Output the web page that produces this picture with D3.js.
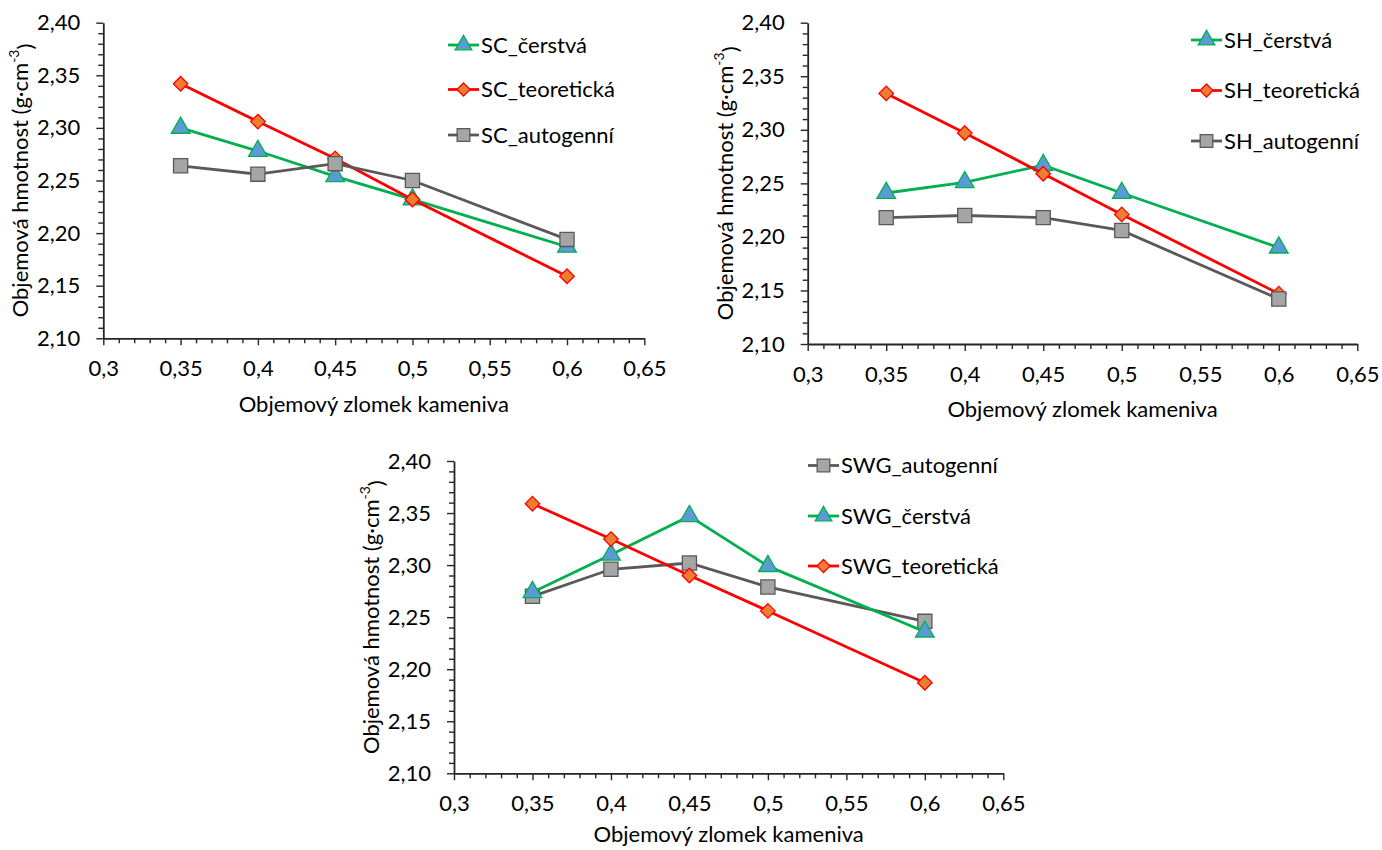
<!DOCTYPE html>
<html>
<head>
<meta charset="utf-8">
<script src="https://cdn.jsdelivr.net/npm/d3@7"></script>
<style>
  html, body { margin: 0; padding: 0; background: #fff; }
  svg { display: block; font-family: Lato, "Open Sans", sans-serif; }
</style>
</head>
<body>
<svg id="chart" width="1382" height="850"></svg>
<script>
// Volume fraction of aggregate (x) and bulk density in g·cm⁻³ (y)
const xValues = [0.35, 0.4, 0.45, 0.5, 0.6];
const xTicks = [0.3, 0.35, 0.4, 0.45, 0.5, 0.55, 0.6, 0.65];
const yTicks = [2.10, 2.15, 2.20, 2.25, 2.30, 2.35, 2.40];

const scCerstva   = [2.300, 2.278, 2.254, 2.232, 2.187];
const scTeoreticka = [2.342, 2.306, 2.271, 2.232, 2.159];
const scAutogenni = [2.264, 2.256, 2.266, 2.250, 2.194];

const shCerstva   = [2.241, 2.251, 2.267, 2.241, 2.190];
const shTeoreticka = [2.334, 2.297, 2.259, 2.221, 2.147];
const shAutogenni = [2.218, 2.220, 2.218, 2.206, 2.142];

const swgAutogenni = [2.270, 2.296, 2.302, 2.279, 2.246];
const swgCerstva   = [2.274, 2.310, 2.347, 2.299, 2.236];
const swgTeoreticka = [2.359, 2.325, 2.290, 2.256, 2.187];

const xTitle = "Objemový zlomek kameniva";
const yTitle = "Objemová hmotnost (g·cm";

const FONT = 22;

// Series styles
const styles = {
  cerstva:    { line: "#00b050", fill: "#5b9bd5", stroke: "#00b050", symbol: d3.symbolTriangle, size: 150 },
  teoreticka: { line: "#ff0000", fill: "#ed7d31", stroke: "#ff0000", symbol: d3.symbolDiamond2, size: 135 },
  autogenni:  { line: "#595959", fill: "#a5a5a5", stroke: "#595959", symbol: d3.symbolSquare, size: 200 }
};

const fmt = v => String(+v.toFixed(2)).replace(".", ",");
const fmtY = v => v.toFixed(2).replace(".", ",");

const svg = d3.select("#chart");

function drawChart(cfg) {
  const g = svg.append("g");
  const x = d3.scaleLinear().domain([0.3, 0.65]).range([cfg.left, cfg.right]);
  const y = d3.scaleLinear().domain([2.10, 2.40]).range([cfg.bottom, cfg.top]);

  // minor ticks every 0.01
  const xMinor = d3.range(31, 65).map(v => v / 100).filter(v => Math.round(v * 100) % 5 !== 0);
  const yMinor = d3.range(211, 240).map(v => v / 100).filter(v => Math.round(v * 100) % 5 !== 0);

  g.append("g").attr("transform", `translate(0,${cfg.bottom})`)
    .call(d3.axisBottom(x).tickValues(xMinor).tickSize(5).tickFormat(""))
    .call(a => a.select(".domain").remove())
    .call(a => a.selectAll("line").attr("stroke", "#262626").attr("stroke-width", 1.4));
  g.append("g").attr("transform", `translate(${cfg.left},0)`)
    .call(d3.axisLeft(y).tickValues(yMinor).tickSize(5).tickFormat(""))
    .call(a => a.select(".domain").remove())
    .call(a => a.selectAll("line").attr("stroke", "#262626").attr("stroke-width", 1.4));

  const xa = g.append("g").attr("transform", `translate(0,${cfg.bottom})`)
    .call(d3.axisBottom(x).tickValues(xTicks).tickSizeInner(7).tickSizeOuter(0).tickPadding(15).tickFormat(fmt));
  xa.select(".domain").attr("stroke", "#262626").attr("stroke-width", 1.8);
  xa.selectAll("line").attr("stroke", "#262626").attr("stroke-width", 1.4);
  xa.selectAll("text").attr("font-size", FONT).attr("fill", "#000").attr("font-family", "Lato");

  const ya = g.append("g").attr("transform", `translate(${cfg.left},0)`)
    .call(d3.axisLeft(y).tickValues(yTicks).tickSizeInner(7).tickSizeOuter(0).tickPadding(16).tickFormat(fmtY));
  ya.select(".domain").attr("stroke", "#262626").attr("stroke-width", 1.8);
  ya.selectAll("line").attr("stroke", "#262626").attr("stroke-width", 1.4);
  ya.selectAll("text").attr("font-size", FONT).attr("fill", "#000").attr("font-family", "Lato");

  // axis titles
  g.append("text")
    .attr("x", (cfg.left + cfg.right) / 2).attr("y", cfg.bottom + cfg.xTitleGap)
    .attr("dy", "0.35em").attr("text-anchor", "middle")
    .attr("font-size", FONT).attr("fill", "#000").text(xTitle);

  const yt = g.append("text")
    .attr("transform", `translate(${cfg.yTitleX},${(cfg.top + cfg.bottom) / 2}) rotate(-90)`)
    .attr("dy", "0.35em").attr("text-anchor", "middle")
    .attr("font-size", FONT).attr("fill", "#000");
  yt.append("tspan").text(yTitle);
  yt.append("tspan").attr("font-size", 14).attr("dy", "-0.6em").text("-3");
  yt.append("tspan").attr("dy", "0.6em").text(")");

  const line = d3.line().x((d, i) => x(xValues[i])).y(d => y(d));

  cfg.series.forEach(s => {
    const st = styles[s.kind];
    const sg = g.append("g");
    sg.append("path").datum(s.values)
      .attr("d", line).attr("fill", "none")
      .attr("stroke", st.line).attr("stroke-width", 2.8);
    sg.selectAll("path.m").data(s.values).join("path").attr("class", "m")
      .attr("transform", (d, i) => `translate(${x(xValues[i])},${y(d)})`)
      .attr("d", d3.symbol(st.symbol, st.size))
      .attr("fill", st.fill).attr("stroke", st.stroke).attr("stroke-width", 1.3);
  });

  // legend
  const lg = g.append("g");
  cfg.series.forEach((s, i) => {
    const st = styles[s.kind];
    const ly = cfg.legend.y[i];
    lg.append("line").attr("x1", cfg.legend.x).attr("x2", cfg.legend.x + 31)
      .attr("y1", ly).attr("y2", ly).attr("stroke", st.line).attr("stroke-width", 2.8);
    lg.append("path").attr("transform", `translate(${cfg.legend.x + 15.5},${ly})`)
      .attr("d", d3.symbol(st.symbol, st.size * 0.8))
      .attr("fill", st.fill).attr("stroke", st.stroke).attr("stroke-width", 1.3);
    lg.append("text").attr("x", cfg.legend.x + 33).attr("y", ly).attr("dy", "0.35em")
      .attr("font-size", FONT).attr("fill", "#000").text(s.name);
  });
}

drawChart({
  left: 103.3, right: 644.3, top: 22.7, bottom: 338.3, yTitleX: 20, xTitleGap: 66,
  legend: { x: 448, y: [45, 89.5, 135] },
  series: [
    { name: "SC_čerstvá", kind: "cerstva", values: scCerstva },
    { name: "SC_teoretická", kind: "teoreticka", values: scTeoreticka },
    { name: "SC_autogenní", kind: "autogenni", values: scAutogenni }
  ]
});

drawChart({
  left: 807.7, right: 1357.3, top: 22.7, bottom: 344, yTitleX: 725, xTitleGap: 65,
  legend: { x: 1191, y: [40, 90.5, 141] },
  series: [
    { name: "SH_čerstvá", kind: "cerstva", values: shCerstva },
    { name: "SH_teoretická", kind: "teoreticka", values: shTeoreticka },
    { name: "SH_autogenní", kind: "autogenni", values: shAutogenni }
  ]
});

drawChart({
  left: 454, right: 1003.3, top: 461, bottom: 773.3, yTitleX: 371, xTitleGap: 61,
  legend: { x: 808, y: [465.5, 516, 566] },
  series: [
    { name: "SWG_autogenní", kind: "autogenni", values: swgAutogenni },
    { name: "SWG_čerstvá", kind: "cerstva", values: swgCerstva },
    { name: "SWG_teoretická", kind: "teoreticka", values: swgTeoreticka }
  ]
});
</script>
</body>
</html>
